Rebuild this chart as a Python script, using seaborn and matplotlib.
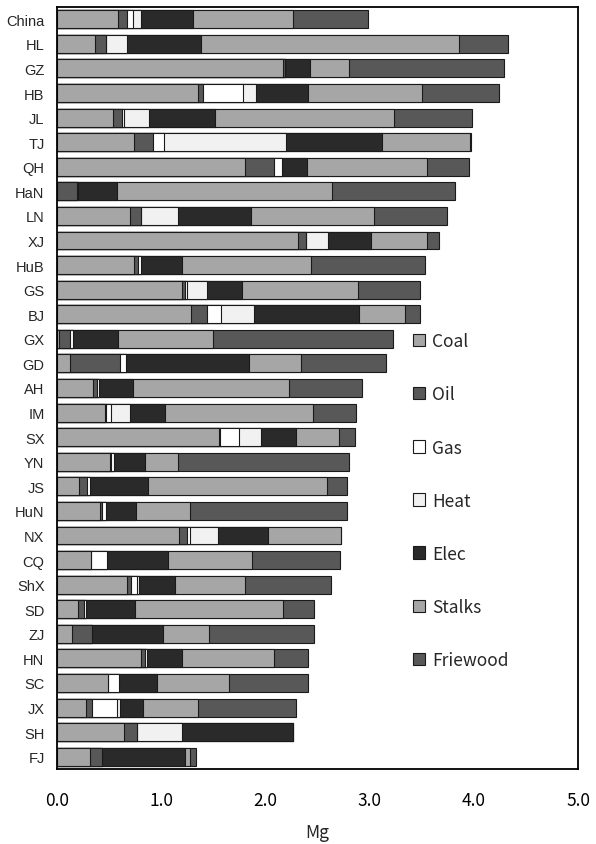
import matplotlib
matplotlib.use("Agg")
import matplotlib.pyplot as plt
import matplotlib.patches as mpatches
from matplotlib.ticker import FixedLocator
import numpy as np
import pandas as pd
import seaborn as sns

regions = ["China", "HL", "GZ", "HB", "JL", "TJ", "QH", "HaN", "LN", "XJ", "HuB",
           "GS", "BJ", "GX", "GD", "AH", "IM", "SX", "YN", "JS", "HuN", "NX", "CQ",
           "ShX", "SD", "ZJ", "HN", "SC", "JX", "SH", "FJ"]

coal = [0.59, 0.365, 2.17, 1.356, 0.54, 0.74, 1.80, 0.0, 0.70, 2.31, 0.74, 1.20, 1.29,
        0.02, 0.125, 0.35, 0.46, 1.55, 0.51, 0.21, 0.41, 1.17, 0.33, 0.67, 0.20, 0.147,
        0.81, 0.49, 0.28, 0.643, 0.32]
oil = [0.08, 0.105, 0.02, 0.048, 0.08, 0.18, 0.285, 0.19, 0.11, 0.076, 0.04, 0.025, 0.15,
       0.10, 0.48, 0.03, 0.01, 0.016, 0.01, 0.075, 0.02, 0.08, 0.0, 0.04, 0.058, 0.19,
       0.03, 0.0, 0.055, 0.128, 0.115]
gas = [0.063, 0.0, 0.0, 0.378, 0.02, 0.11, 0.073, 0.015, 0.0, 0.0, 0.03, 0.025, 0.135,
       0.03, 0.057, 0.025, 0.045, 0.18, 0.03, 0.03, 0.04, 0.022, 0.15, 0.055, 0.023, 0.0,
       0.022, 0.105, 0.245, 0.0, 0.0]
heat = [0.071, 0.20, 0.0, 0.128, 0.24, 1.17, 0.0, 0.0, 0.35, 0.218, 0.0, 0.185, 0.32,
        0.0, 0.0, 0.0, 0.19, 0.21, 0.0, 0.0, 0.0, 0.27, 0.0, 0.022, 0.0, 0.0,
        0.0, 0.0, 0.02, 0.43, 0.0]
elec = [0.50, 0.71, 0.24, 0.496, 0.64, 0.92, 0.24, 0.37, 0.70, 0.41, 0.39, 0.34, 1.007,
        0.44, 1.18, 0.32, 0.33, 0.336, 0.29, 0.56, 0.29, 0.48, 0.585, 0.35, 0.464, 0.68,
        0.34, 0.36, 0.23, 1.06, 0.79]
stalks = [0.96, 2.48, 0.37, 1.10, 1.71, 0.84, 1.15, 2.06, 1.18, 0.54, 1.24, 1.11, 0.435,
          0.905, 0.50, 1.50, 1.42, 0.41, 0.326, 1.72, 0.52, 0.70, 0.81, 0.665, 1.42, 0.44,
          0.876, 0.70, 0.52, 0.0, 0.048]
friewood = [0.72, 0.47, 1.49, 0.74, 0.75, 0.01, 0.41, 1.18, 0.70, 0.11, 1.09, 0.60, 0.148,
            1.73, 0.82, 0.70, 0.41, 0.154, 1.64, 0.19, 1.50, 0.0, 0.845, 0.825, 0.30, 1.01,
            0.33, 0.755, 0.94, 0.0, 0.065]

series_names = ["Coal", "Oil", "Gas", "Heat", "Elec", "Stalks", "Friewood"]
series_vals = [coal, oil, gas, heat, elec, stalks, friewood]
colors = ["#a6a6a6", "#585858", "#ffffff", "#f1f1f1", "#2a2a2a", "#a6a6a6", "#585858"]

x_ticks = [0.0, 1.0, 2.0, 3.0, 4.0, 5.0]
x_ticklabels = ["0.0", "1.0", "2.0", "3.0", "4.0", "5.0"]

sns.set_style("white")
plt.rcParams["font.family"] = ["Liberation Sans", "DejaVu Sans"]

df = pd.DataFrame({n: v for n, v in zip(series_names, series_vals)})
df["region"] = regions
cum = df[series_names].cumsum(axis=1)

fig = plt.figure(figsize=(5.96, 8.45), dpi=100)
ax = fig.add_axes([57 / 596, 1 - 770 / 845, (578 - 57) / 596, (770 - 8) / 845])

# overlay cumulative bars from the total down to the first series
for name, col in reversed(list(zip(series_names, colors))):
    sns.barplot(x=cum[name], y=df["region"], orient="h", color=col, saturation=1,
                edgecolor="#1a1a1a", linewidth=0.8, width=0.73, ax=ax)

ax.set_xlim(0, 5)
ax.set_ylim(len(regions) - 0.5, -0.5)
ax.set_xticks(x_ticks)
cjk = ["Noto Sans CJK JP", "DejaVu Sans"]
ax.set_xticklabels(x_ticklabels, family=cjk, fontsize=12.5)
ax.set_xlabel("Mg", family=cjk, fontsize=12.5, labelpad=10)
ax.set_ylabel("")
ax.tick_params(axis="x", direction="in", length=5, width=1, pad=16, colors="black")
ax.tick_params(axis="y", which="major", length=0, pad=9, labelsize=10.5)
ax.yaxis.set_minor_locator(FixedLocator(np.arange(len(regions)) + 0.5))
ax.tick_params(axis="y", which="minor", direction="in", length=3, width=0.6)
for s in ax.spines.values():
    s.set_visible(True)
    s.set_color("black")
    s.set_linewidth(1.3)

handles = [mpatches.Patch(facecolor=c, edgecolor="#1a1a1a", linewidth=0.8, label=n)
           for n, c in zip(series_names, colors)]
ax.legend(handles=handles, loc="upper left", bbox_to_anchor=(0.683, 0.573),
          frameon=False, prop={"family": cjk, "size": 12.5},
          handlelength=0.7, handleheight=0.7, handletextpad=0.4,
          labelspacing=2.02, borderpad=0, borderaxespad=0)

fig.savefig("out.png", dpi=100)
